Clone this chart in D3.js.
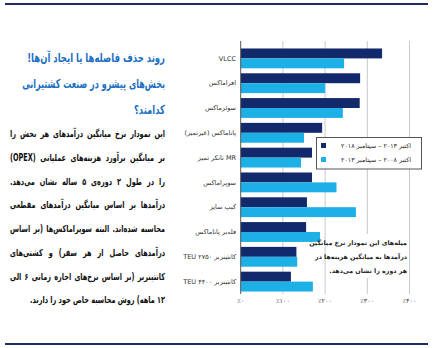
<!DOCTYPE html>
<html><head><meta charset="utf-8">
<script src="https://cdn.jsdelivr.net/npm/d3@7"></script>
<style>
body{margin:0;background:#fff;}
</style></head><body><div id="wrap"></div>
<script>
const categories = ["VLCC","افراماکس","سوئزماکس","پاناماکس (غیرتمیز)","MR تانکر تمیز","سوپراماکس","کیپ سایز","فله‌بر پاناماکس","کانتینربر ۲۷۵۰ TEU","کانتینربر ۴۴۰۰ TEU"];
const recent  = [335, 283, 282, 193, 169, 169, 157, 155, 132, 119]; // اکتبر ۲۰۱۳ – سپتامبر ۲۰۱۸
const earlier = [245, 200, 242, 150, 143, 227, 273, 188, 134, 171]; // اکتبر ۲۰۰۸ – سپتامبر ۲۰۱۳
const seriesNames = ["اکتبر ۲۰۱۳ – سپتامبر ۲۰۱۸","اکتبر ۲۰۰۸ – سپتامبر ۲۰۱۳"];
const tickValues = [0,100,200,300,400];
const tickLabels = ["٪۰","٪۱۰۰","٪۲۰۰","٪۳۰۰","٪۴۰۰"];
const titleLines = ["روند حذف فاصله‌ها یا ایجاد آن‌ها!","بخش‌های پیشرو در صنعت کشتیرانی","کدامند؟"];
const bodyLines = ["این نمودار نرخ میانگین درآمدهای هر بخش را","بر میانگین برآورد هزینه‌های عملیاتی (OPEX)","را در طول ۲ دوره‌ی ۵ ساله نشان می‌دهد.","درآمدها بر اساس میانگین درآمدهای مقطعی","محاسبه شده‌اند. البته سوپراماکس‌ها (بر اساس","درآمدهای حاصل از هر سفر) و کشتی‌های","کانتینربر (بر اساس نرخ‌های اجاره زمانی ۶ الی","۱۲ ماهه) روش محاسبه خاص خود را دارند."];
const noteLines = ["میله‌های این نمودار نرخ میانگین","درآمدها به میانگین هزینه‌ها در","هر دوره را نشان می‌دهد."];

const colors = ["#12296b","#1cb0e6"];
const W = 433, H = 348;
const FONT = "DejaVu Sans, sans-serif";
const svg = d3.select("#wrap").append("svg").attr("width",W).attr("height",H);
const rtl = s => "\u202B" + s + "\u202C";   // right-to-left embedding, right-anchored text

// frame lines
svg.append("rect").attr("x",5).attr("y",3).attr("width",423).attr("height",2).attr("fill","#1d2d64");
svg.append("rect").attr("x",5).attr("y",343).attr("width",423).attr("height",2).attr("fill","#1d2d64");

// ---- left text ----
const textRight = 165;
function rtlText(sel){
  return sel.attr("text-anchor","end").attr("font-family",FONT);
}
// title
const tg = svg.append("g");
const tItems = tg.selectAll("text").data(titleLines).join("text")
  .attr("x",0).attr("y",0).attr("dy","0.35em")
  .attr("font-size",12.5).attr("font-weight","bold").attr("fill","#1d6fc2").text(d=>rtl(d));
rtlText(tItems);
{
  const targets = [138,143,null];
  const ws = tItems.nodes().map(n=>n.getComputedTextLength());
  const k = 143/ws[1];
  tItems.each(function(d,i){
    const t = targets[i] || Math.min(ws[i]*k*1.05, 48);
    d3.select(this).attr("transform",`translate(${textRight},${58+i*26}) scale(${t/ws[i]},1)`);
  });
}
// body
const bg = svg.append("g");
const bItems = bg.selectAll("text").data(bodyLines).join("text")
  .attr("x",0).attr("y",0).attr("dy","0.35em")
  .attr("font-size",9.6).attr("font-weight","bold").attr("fill","#111").text(d=>rtl(d));
rtlText(bItems);
{
  const target = 155;
  const nat = bItems.nodes().map(n=>n.getComputedTextLength());
  const k = 150/d3.max(nat);
  bItems.each(function(d,i){
    const el = d3.select(this);
    const yy = 134+i*23.7;
    if(i===bodyLines.length-1){
      el.attr("transform",`translate(${textRight},${yy}) scale(${k},1)`);
      return;
    }
    const spaces = (d.match(/ /g)||[]).length;
    el.style("word-spacing",((target/k-nat[i])/spaces)+"px");
    const w2 = this.getComputedTextLength();
    el.attr("transform",`translate(${textRight},${yy}) scale(${target/w2},1)`);
  });
}

// ---- chart ----
const x = d3.scaleLinear().domain([0,400]).range([240.7,409.5]);
const y = d3.scaleBand().domain(categories).range([46,294]).paddingInner(0.2).paddingOuter(0.1);
const g = svg.append("g");

g.selectAll(".grid").data(tickValues.slice(1)).join("line")
  .attr("x1",d=>x(d)).attr("x2",d=>x(d)).attr("y1",41).attr("y2",294)
  .attr("stroke","#c9c9c9").attr("stroke-width",1);

const bh = y.bandwidth()/2;
g.selectAll(".b1").data(categories).join("rect")
  .attr("x",x(0)).attr("y",d=>y(d))
  .attr("width",(d,i)=>x(recent[i])-x(0)).attr("height",bh)
  .attr("fill",colors[0]);
g.selectAll(".b2").data(categories).join("rect")
  .attr("x",x(0)).attr("y",d=>y(d)+bh)
  .attr("width",(d,i)=>x(earlier[i])-x(0)).attr("height",bh)
  .attr("fill",colors[1]);

g.append("line").attr("x1",x(0)).attr("x2",x(0)).attr("y1",41).attr("y2",294)
  .attr("stroke","#555").attr("stroke-width",1);

// category labels
const cl = g.selectAll(".cl").data(categories).join("text")
  .attr("x",236).attr("y",d=>y(d)+y.bandwidth()/2)
  .attr("dy","0.35em").attr("font-size",6.5).attr("fill","#333")
  .text(d=>rtl(d));
rtlText(cl);

// x tick labels
g.selectAll(".tl").data(tickValues).join("text")
  .attr("x",d=>x(d)).attr("y",303)
  .attr("text-anchor","middle")
  .attr("font-family",FONT).attr("font-size",6.5).attr("fill","#444")
  .text((d,i)=>tickLabels[i]);

// legend
const lg = svg.append("g");
lg.append("rect").attr("x",316.5).attr("y",137.5).attr("width",105).attr("height",31.5)
  .attr("fill","#fff").attr("stroke","#555").attr("stroke-width",1);
seriesNames.forEach((s,i)=>{
  lg.append("rect").attr("x",321).attr("y",143+i*14).attr("width",5).attr("height",5).attr("fill",colors[i]);
  rtlText(lg.append("text").attr("x",411).attr("y",146+i*14).attr("dy","0.35em")
    .attr("font-size",6.3).attr("fill","#222")
    .text(rtl(s)));
});

// note
const ng = svg.append("g");
ng.append("rect").attr("x",326).attr("y",234).attr("width",82).attr("height",44).attr("fill","#fff");
rtlText(ng.selectAll("text").data(noteLines).join("text")
  .attr("x",407).attr("y",(d,i)=>243+i*14).attr("dy","0.35em")
  .attr("font-size",6.3).attr("font-weight","bold").attr("fill","#222")
  .text(d=>rtl(d)));
</script></body></html>
